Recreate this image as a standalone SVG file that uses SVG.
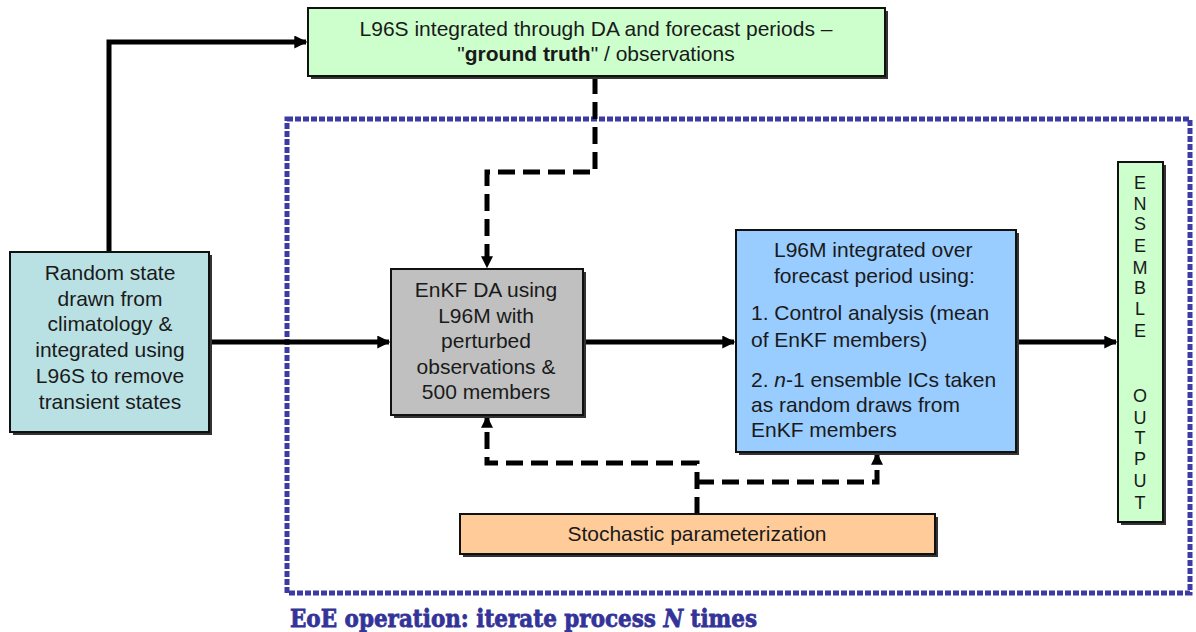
<svg xmlns="http://www.w3.org/2000/svg" width="1196" height="632" viewBox="0 0 1196 632">
<defs>
<marker id="ah" viewBox="0 0 10 10" refX="9" refY="5" markerWidth="2.6" markerHeight="2.6" orient="auto" markerUnits="strokeWidth">
<path d="M0,0 L10,5 L0,10 z" fill="#000"/>
</marker>
<marker id="ahd" viewBox="0 0 10 10" refX="9" refY="5" markerWidth="2.4" markerHeight="2.4" orient="auto" markerUnits="strokeWidth">
<path d="M0,0 L10,5 L0,10 z" fill="#000"/>
</marker>
</defs>
<style>
text{font-family:"Liberation Sans",Arial,sans-serif;font-size:21px;fill:#1a1a1a}
.box{stroke:#111;stroke-width:2}
.sh{fill:#333}
.solid{fill:none;stroke:#000;stroke-width:5}
.dash{fill:none;stroke:#000;stroke-width:5;stroke-dasharray:17 8}
.c{text-anchor:middle}
.eoe{font-family:"DejaVu Serif",serif;font-weight:bold;font-size:25px;fill:#333399;stroke:#333399;stroke-width:0.8}
.lt{font-size:18px}
</style>
<rect width="1196" height="632" fill="#fff"/>

<g id="frame">
<rect x="287" y="119" width="903" height="474" fill="none" stroke="#3b3ba3" stroke-width="5" stroke-dasharray="6 2"/>
<g transform="translate(290,627) scale(0.86,1)">
<text class="eoe" x="0" y="0">EoE operation:  iterate process <tspan font-style="italic">N</tspan> times</text>
</g>
</g>

<g id="connectors">
<path class="solid" d="M109,253 L109,42 L306,42" marker-end="url(#ah)"/>
<path class="solid" d="M209,342 L389,342" marker-end="url(#ah)"/>
<path class="solid" d="M583,342 L734,342" marker-end="url(#ah)"/>
<path class="solid" d="M1016,342 L1116,342" marker-end="url(#ah)"/>
<path class="dash" d="M595,77 L595,172 L487,172 L487,267" marker-end="url(#ahd)"/>
<path class="dash" d="M697,514 L697,463 L487,463 L487,417" marker-end="url(#ahd)"/>
<path class="dash" d="M697,482 L877,482 L877,454" marker-end="url(#ahd)"/>
</g>

<g id="truth">
<rect class="sh" x="311" y="11" width="577" height="68"/>
<rect class="box" x="308" y="8" width="577" height="68" fill="#ccffcc"/>
<text class="c" x="596" y="36">L96S integrated through DA and forecast periods –</text>
<text class="c" x="596" y="61">"<tspan font-weight="bold">ground truth</tspan>" / observations</text>
</g>

<g id="random">
<rect class="sh" x="13" y="255" width="199" height="180"/>
<rect class="box" x="10" y="252" width="199" height="180" fill="#b9e0e3"/>
<text class="c" x="110" y="280">Random state</text>
<text class="c" x="110" y="306">drawn from</text>
<text class="c" x="110" y="331">climatology &amp;</text>
<text class="c" x="110" y="357">integrated using</text>
<text class="c" x="110" y="383">L96S to remove</text>
<text class="c" x="110" y="409">transient states</text>
</g>

<g id="enkf">
<rect class="sh" x="394" y="272" width="192" height="146"/>
<rect class="box" x="391" y="269" width="192" height="146" fill="#c0c0c0"/>
<text class="c" x="486" y="297">EnKF DA using</text>
<text class="c" x="486" y="323">L96M with</text>
<text class="c" x="486" y="348">perturbed</text>
<text class="c" x="486" y="374">observations &amp;</text>
<text class="c" x="486" y="399">500 members</text>
</g>

<g id="forecast">
<rect class="sh" x="739" y="233" width="280" height="222"/>
<rect class="box" x="736" y="230" width="280" height="222" fill="#99ccff"/>
<text x="774" y="257">L96M integrated over</text>
<text x="774" y="283">forecast period using:</text>
<text x="751" y="320">1. Control analysis (mean</text>
<text x="751" y="347">of EnKF members)</text>
<text x="751" y="387">2. <tspan font-style="italic">n</tspan>-1 ensemble ICs taken</text>
<text x="751" y="412">as random draws from</text>
<text x="751" y="437">EnKF members</text>
</g>

<g id="output">
<rect class="sh" x="1121" y="165" width="45" height="360"/>
<rect class="box" x="1118" y="162" width="45" height="360" fill="#ccffcc"/>
<text class="c lt" x="1140" y="189">E</text>
<text class="c lt" x="1140" y="210">N</text>
<text class="c lt" x="1140" y="230">S</text>
<text class="c lt" x="1140" y="252">E</text>
<text class="c lt" x="1140" y="274">M</text>
<text class="c lt" x="1140" y="294">B</text>
<text class="c lt" x="1140" y="315">L</text>
<text class="c lt" x="1140" y="337">E</text>
<text class="c lt" x="1140" y="402">O</text>
<text class="c lt" x="1140" y="424">U</text>
<text class="c lt" x="1140" y="444">T</text>
<text class="c lt" x="1140" y="465">P</text>
<text class="c lt" x="1140" y="487">U</text>
<text class="c lt" x="1140" y="509">T</text>
</g>

<g id="stochastic">
<rect class="sh" x="463" y="517" width="475" height="40"/>
<rect class="box" x="460" y="514" width="475" height="40" fill="#ffcc99"/>
<text class="c" x="697" y="541">Stochastic parameterization</text>
</g>
</svg>
